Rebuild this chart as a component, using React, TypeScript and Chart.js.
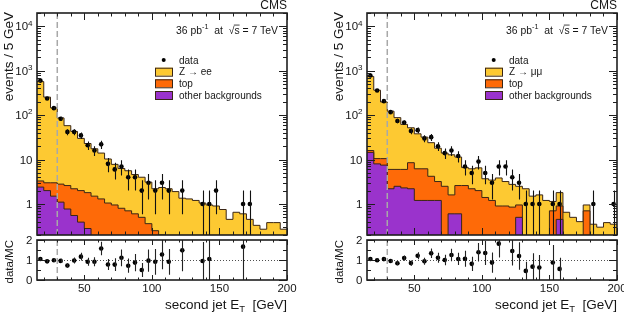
import React, { useEffect, useRef } from "react";
import { Chart, registerables } from "chart.js";

Chart.register(...registerables);

const FONT = '"Liberation Sans", Arial, Helvetica, sans-serif';

// Histogram binning in second-jet ET (GeV)
const BIN_EDGES = [
  15, 20, 25, 30, 35, 40, 45, 50, 55, 60, 65, 70, 75, 80, 85, 90, 95, 100, 105,
  110, 115, 120, 125, 130, 135, 140, 145, 150, 155, 160, 165, 170, 175, 180,
  185, 190, 195, 200,
];

// Z -> ee selection: observed events and expected contributions per bin
const EE_DATA = [
  600, 238, 144, 83, 42, 42, 35, 21, 16, 22, 8, 6, 7, 4, 4, 2, 3, 2, 3, 2, 0, 2,
  0, 0, 1, 1, 2, 0, 0, 0, 1, 1, 0, 0, 0, 0, 0,
];
const EE_Z = [
  567, 252, 143, 84, 55.4, 40.8, 28, 21.2, 16, 12.7, 9.25, 6.85, 5.5, 4.9, 4.0,
  3.5, 2.74, 1.95, 2.15, 2.1, 1.9, 1.35, 1.3, 1.2, 1.05, 0.95, 0.9, 0.75, 0.45,
  0.65, 0.6, 0.45, 0.33, 0.27, 0.38, 0.38, 0.27,
];
const EE_TOP = [
  0.9, 1.0, 1.5, 1.7, 1.83, 1.65, 1.61, 1.52, 1.5, 1.3, 1.05, 0.95, 0.8, 0.7,
  0.6, 0.5, 0.36, 0.25, 0.2, 0.1, 0, 0, 0, 0, 0, 0, 0, 0, 0, 0, 0, 0, 0, 0, 0,
  0, 0,
];
const EE_OTHER = [
  2.4, 2.0, 1.5, 1.1, 0.77, 0.55, 0.39, 0.28, 0, 0, 0, 0, 0, 0, 0, 0, 0, 0, 0,
  0, 0, 0, 0, 0, 0, 0, 0, 0, 0, 0, 0, 0, 0, 0, 0, 0, 0,
];

// Z -> mumu selection
const MM_DATA = [
  780, 360, 207, 117, 74, 68, 44, 46, 30, 32, 20, 14, 16, 12, 7, 5, 9, 5, 3, 7,
  7, 4, 3, 1, 1, 1, 0, 1, 1, 0, 0, 0, 0, 1, 0, 0, 1,
];
const MM_Z = [
  729, 354.5, 187.5, 117, 82, 56, 43.5, 31.8, 25.8, 19.8, 14.8, 11.5, 11.2, 8.8,
  4.0, 4.0, 4.5, 2.3, 2.25, 2.95, 2.3, 1.91, 1.55, 2.2, 1.5, 1.6, 1.2, 0.44,
  0.9, 0.65, 0.5, 0.4, 0.25, 0.35, 0.3, 0.38, 0.35,
];
const MM_TOP = [
  1.5, 2.5, 3.0, 3.8, 3.5, 3.7, 6.3, 5.0, 5.0, 3.0, 2.0, 2.5, 1.0, 2.0, 2.6,
  2.2, 2.0, 1.4, 1.2, 0.9, 0.9, 0.85, 0.45, 0, 0, 0, 0, 0.7, 0.45, 0, 0, 0, 0.7,
  0, 0, 0, 0,
];
const MM_OTHER = [
  14.5, 8, 7.5, 2.2, 2.5, 2.3, 2.2, 1.2, 1.2, 1.2, 1.2, 0, 0.6, 0.6, 0, 0, 0, 0,
  0, 0, 0, 0, 0.5, 0, 0, 0, 0, 0, 0.45, 0, 0, 0, 0, 0, 0, 0, 0,
];

const X_MIN = 15;
const X_MAX = 200;
const Y_MIN = 0.2;
const Y_MAX = 20000;
const R_MIN = 0;
const R_MAX = 2;
const ET_CUT = 30;

type Seg = { t: string; sup?: boolean; sub?: boolean; over?: boolean };

const X_TICKS = [50, 100, 150, 200];
const X_TICK_LABELS = ["50", "100", "150", "200"];
const Y_TICKS = [1, 10, 100, 1000, 10000];
const Y_TICK_LABELS: Seg[][] = [
  [{ t: "1" }],
  [{ t: "10" }],
  [{ t: "10" }, { t: "2", sup: true }],
  [{ t: "10" }, { t: "3", sup: true }],
  [{ t: "10" }, { t: "4", sup: true }],
];
const R_TICKS = [0, 1, 2];
const R_TICK_LABELS = ["0", "1", "2"];

const LUMI_TEXT: Seg[] = [
  { t: "36 pb" },
  { t: "-1", sup: true },
  { t: "  at  " },
  { t: "\u221A" },
  { t: "s", over: true },
  { t: " = 7 TeV" },
];
const X_TITLE: Seg[] = [{ t: "second jet E" }, { t: "T", sub: true }, { t: "  [GeV]" }];
const Y_TITLE = "events / 5 GeV";
const R_TITLE = "data/MC";
const EXPERIMENT = "CMS";

const COLORS = {
  z: "#fdc932",
  top: "#fe6a08",
  other: "#9a33cc",
  edge: "#3a2616",
  ink: "#151515",
  cut: "#a8a8a8",
};

const PANEL_W = 330;
const PANEL_H = 312;
const MAIN_PAD = { left: 37, top: 13, right: 43, bottom: 77 };
const RATIO_PAD = { left: 37, top: 240, right: 43, bottom: 32 };

function segFont(s: Seg, size: number) {
  const sz = s.sup || s.sub ? size * 0.7 : size;
  return `${sz}px ${FONT}`;
}

function richWidth(ctx: CanvasRenderingContext2D, segs: Seg[], size: number) {
  let w = 0;
  for (const s of segs) {
    ctx.font = segFont(s, size);
    w += ctx.measureText(s.t).width;
  }
  return w;
}

function drawRich(
  ctx: CanvasRenderingContext2D,
  segs: Seg[],
  x: number,
  baseline: number,
  size: number,
  align: "left" | "right" | "center" = "left"
) {
  const w = richWidth(ctx, segs, size);
  let cx = align === "right" ? x - w : align === "center" ? x - w / 2 : x;
  ctx.textAlign = "left";
  ctx.textBaseline = "alphabetic";
  for (const s of segs) {
    ctx.font = segFont(s, size);
    const sw = ctx.measureText(s.t).width;
    const dy = s.sup ? -size * 0.42 : s.sub ? size * 0.22 : 0;
    ctx.fillText(s.t, cx, baseline + dy);
    if (s.over) {
      ctx.save();
      ctx.lineWidth = 0.8;
      ctx.strokeStyle = COLORS.ink;
      ctx.beginPath();
      ctx.moveTo(cx - 0.5, baseline - size * 0.84);
      ctx.lineTo(cx + sw, baseline - size * 0.84);
      ctx.stroke();
      ctx.restore();
    }
    cx += sw;
  }
}

function drawFrame(ctx: CanvasRenderingContext2D, a: any) {
  ctx.save();
  ctx.strokeStyle = "#1e1e1e";
  ctx.lineWidth = 1.6;
  ctx.strokeRect(a.left, a.top, a.right - a.left, a.bottom - a.top);
  ctx.restore();
}

function drawXTicks(ctx: CanvasRenderingContext2D, a: any, xs: any, major: number, minor: number) {
  ctx.save();
  ctx.strokeStyle = "#1e1e1e";
  ctx.lineWidth = 1;
  ctx.beginPath();
  for (let v = Math.ceil(X_MIN / 10) * 10; v <= X_MAX; v += 10) {
    const px = Math.round(xs.getPixelForValue(v)) + 0.5;
    const len = v % 50 === 0 ? major : minor;
    ctx.moveTo(px, a.bottom);
    ctx.lineTo(px, a.bottom - len);
    ctx.moveTo(px, a.top);
    ctx.lineTo(px, a.top + len);
  }
  ctx.stroke();
  ctx.restore();
}

function drawYTicks(ctx: CanvasRenderingContext2D, a: any, values: { v: number; major: boolean }[], ys: any) {
  ctx.save();
  ctx.strokeStyle = "#1e1e1e";
  ctx.lineWidth = 1;
  ctx.beginPath();
  for (const { v, major } of values) {
    const py = Math.round(ys.getPixelForValue(v)) + 0.5;
    const len = major ? 8 : 4;
    ctx.moveTo(a.left, py);
    ctx.lineTo(a.left + len, py);
    ctx.moveTo(a.right, py);
    ctx.lineTo(a.right - len, py);
  }
  ctx.stroke();
  ctx.restore();
}

function drawCutLine(ctx: CanvasRenderingContext2D, a: any, xs: any) {
  const px = xs.getPixelForValue(ET_CUT);
  ctx.save();
  ctx.strokeStyle = COLORS.cut;
  ctx.lineWidth = 1.5;
  ctx.setLineDash([6, 3]);
  ctx.beginPath();
  ctx.moveTo(px, a.top);
  ctx.lineTo(px, a.bottom);
  ctx.stroke();
  ctx.restore();
}

function drawRotatedTitle(ctx: CanvasRenderingContext2D, text: string, x: number, endY: number, size: number) {
  ctx.save();
  ctx.translate(x, endY);
  ctx.rotate(-Math.PI / 2);
  ctx.fillStyle = COLORS.ink;
  ctx.font = `${size}px ${FONT}`;
  ctx.textAlign = "right";
  ctx.textBaseline = "alphabetic";
  ctx.fillText(text, 0, 0);
  ctx.restore();
}

const centers = BIN_EDGES.slice(0, -1).map((e, i) => (e + BIN_EDGES[i + 1]) / 2);

function toSteps(vals: number[]) {
  return BIN_EDGES.map((e, i) => ({
    x: e,
    y: Math.max(vals[Math.min(i, vals.length - 1)], 1e-3),
  }));
}

type PanelProps = {
  offset: number;
  data: number[];
  z: number[];
  top: number[];
  other: number[];
  zLabel: string;
};

function HistPanel({ offset, data, z, top, other, zLabel }: PanelProps) {
  const mainRef = useRef<HTMLCanvasElement>(null);
  const ratioRef = useRef<HTMLCanvasElement>(null);

  useEffect(() => {
    const cumOther = other.slice();
    const cumTop = other.map((v, i) => v + top[i]);
    const total = cumTop.map((v, i) => v + z[i]);
    const legend = [
      { label: "data", kind: "marker", color: "#000" },
      { label: zLabel, kind: "box", color: COLORS.z },
      { label: "top", kind: "box", color: COLORS.top },
      { label: "other backgrounds", kind: "box", color: COLORS.other },
    ];

    const dataPoints = centers
      .map((c, i) => (data[i] > 0 ? { x: c, y: data[i] } : null))
      .filter(Boolean) as { x: number; y: number }[];

    const ratioPoints = centers
      .map((c, i) => {
        if (data[i] <= 0) return null;
        const r = data[i] / total[i];
        return r <= R_MAX ? { x: c, y: r, e: Math.sqrt(data[i]) / total[i] } : null;
      })
      .filter(Boolean) as { x: number; y: number; e: number }[];

    const logTicks: { v: number; major: boolean }[] = [];
    for (let e = -1; e <= 4; e++) {
      for (let m = 1; m <= 9; m++) {
        const v = m * Math.pow(10, e);
        if (v < Y_MIN - 1e-9 || v > Y_MAX + 1e-9) continue;
        logTicks.push({ v, major: m === 1 });
      }
    }

    const mainDecor = {
      id: "mainDecor",
      afterDatasetsDraw(chart: any) {
        const { ctx, chartArea: a } = chart;
        const xs = chart.scales.x;
        const ys = chart.scales.y;

        // statistical error bars on data
        ctx.save();
        ctx.beginPath();
        ctx.rect(a.left, a.top, a.right - a.left, a.bottom - a.top);
        ctx.clip();
        ctx.strokeStyle = "#111";
        ctx.lineWidth = 1.1;
        ctx.beginPath();
        centers.forEach((c, i) => {
          const n = data[i];
          if (n <= 0) return;
          const err = Math.sqrt(n);
          const px = Math.round(xs.getPixelForValue(c)) + 0.5;
          const lo = n - err;
          const y1 = lo > 0 ? ys.getPixelForValue(lo) : a.bottom + 2;
          const y2 = ys.getPixelForValue(n + err);
          ctx.moveTo(px, y1);
          ctx.lineTo(px, y2);
        });
        ctx.stroke();
        ctx.restore();

        drawCutLine(ctx, a, xs);
        drawFrame(ctx, a);
        drawXTicks(ctx, a, xs, 7, 3.5);
        drawYTicks(ctx, a, logTicks, ys);

        // y tick labels
        ctx.fillStyle = COLORS.ink;
        Y_TICKS.forEach((v, i) => {
          const py = ys.getPixelForValue(v);
          drawRich(ctx, Y_TICK_LABELS[i], a.left - 4.5, py + 4.1, 11.5, "right");
        });

        drawRotatedTitle(ctx, Y_TITLE, 13.3, a.top - 1, 13.5);

        // experiment tag and luminosity
        ctx.fillStyle = COLORS.ink;
        drawRich(ctx, [{ t: EXPERIMENT }], a.right, 8.5, 12, "right");
        drawRich(ctx, LUMI_TEXT, a.left + 241, a.top + 20.8, 10.4, "right");

        // legend
        const lx = a.left + 118;
        const tx = a.left + 142;
        const rows = [47, 58.7, 70.3, 82];
        legend.forEach((item, i) => {
          const cy = a.top + rows[i];
          if (item.kind === "marker") {
            ctx.fillStyle = item.color;
            ctx.beginPath();
            ctx.arc(lx + 8.7, cy, 2, 0, Math.PI * 2);
            ctx.fill();
          } else {
            ctx.fillStyle = item.color;
            ctx.fillRect(lx, cy - 4, 17.5, 8);
            ctx.strokeStyle = COLORS.edge;
            ctx.lineWidth = 1;
            ctx.strokeRect(lx + 0.5, cy - 3.5, 17, 8);
          }
          ctx.fillStyle = COLORS.ink;
          drawRich(ctx, [{ t: item.label }], tx, cy + 3.6, 10, "left");
        });
      },
    };

    const ratioDecor = {
      id: "ratioDecor",
      beforeDatasetsDraw(chart: any) {
        const { ctx, chartArea: a } = chart;
        const ys = chart.scales.y;
        const py = Math.round(ys.getPixelForValue(1)) + 0.5;
        ctx.save();
        ctx.strokeStyle = "#222";
        ctx.lineWidth = 0.8;
        ctx.setLineDash([1, 2]);
        ctx.beginPath();
        ctx.moveTo(a.left, py);
        ctx.lineTo(a.right, py);
        ctx.stroke();
        ctx.restore();
      },
      afterDatasetsDraw(chart: any) {
        const { ctx, chartArea: a } = chart;
        const xs = chart.scales.x;
        const ys = chart.scales.y;

        ctx.save();
        ctx.beginPath();
        ctx.rect(a.left, a.top, a.right - a.left, a.bottom - a.top);
        ctx.clip();
        ctx.strokeStyle = "#222";
        ctx.lineWidth = 1.1;
        ctx.beginPath();
        ratioPoints.forEach((p) => {
          const px = Math.round(xs.getPixelForValue(p.x)) + 0.5;
          ctx.moveTo(px, ys.getPixelForValue(p.y - p.e));
          ctx.lineTo(px, ys.getPixelForValue(p.y + p.e));
        });
        ctx.stroke();
        ctx.restore();

        drawCutLine(ctx, a, xs);
        drawFrame(ctx, a);
        drawXTicks(ctx, a, xs, 5, 2.5);
        const rTicks: { v: number; major: boolean }[] = [];
        for (let v = R_MIN; v <= R_MAX + 1e-9; v += 0.5) {
          rTicks.push({ v, major: Math.abs(v - Math.round(v)) < 1e-9 });
        }
        drawYTicks(ctx, a, rTicks, ys);

        ctx.fillStyle = COLORS.ink;
        R_TICKS.forEach((v, i) => {
          drawRich(ctx, [{ t: R_TICK_LABELS[i] }], a.left - 4.5, ys.getPixelForValue(v) + 4.1, 11.5, "right");
        });
        X_TICKS.forEach((v, i) => {
          drawRich(ctx, [{ t: X_TICK_LABELS[i] }], xs.getPixelForValue(v), a.bottom + 12.3, 11.5, "center");
        });
        drawRich(ctx, X_TITLE, a.right, 309, 13.5, "right");
        drawRotatedTitle(ctx, R_TITLE, 13.3, a.top, 11.5);
      },
    };

    const stackSet = (vals: number[], color: string) => ({
      data: toSteps(vals),
      stepped: "before",
      fill: "start",
      backgroundColor: color,
      borderColor: COLORS.edge,
      borderWidth: 1,
      pointRadius: 0,
    });

    const mainChart = new Chart(mainRef.current as HTMLCanvasElement, {
      type: "line",
      data: {
        datasets: [
          {
            data: dataPoints,
            showLine: false,
            pointRadius: 2.3,
            pointBackgroundColor: "#000",
            pointBorderWidth: 0,
            borderColor: "#000",
          },
          stackSet(cumOther, COLORS.other),
          stackSet(cumTop, COLORS.top),
          stackSet(total, COLORS.z),
        ] as any,
      },
      options: {
        responsive: false,
        animation: false,
        devicePixelRatio: 1,
        events: [],
        layout: { padding: MAIN_PAD },
        scales: {
          x: { type: "linear", min: X_MIN, max: X_MAX, display: false },
          y: { type: "logarithmic", min: Y_MIN, max: Y_MAX, display: false },
        },
        plugins: { legend: { display: false }, tooltip: { enabled: false } },
      },
      plugins: [mainDecor],
    });

    const ratioChart = new Chart(ratioRef.current as HTMLCanvasElement, {
      type: "line",
      data: {
        datasets: [
          {
            data: ratioPoints.map((p) => ({ x: p.x, y: p.y })),
            showLine: false,
            pointRadius: 2.3,
            pointBackgroundColor: "#000",
            pointBorderWidth: 0,
            borderColor: "#000",
          },
        ],
      },
      options: {
        responsive: false,
        animation: false,
        devicePixelRatio: 1,
        events: [],
        layout: { padding: RATIO_PAD },
        scales: {
          x: { type: "linear", min: X_MIN, max: X_MAX, display: false },
          y: { type: "linear", min: R_MIN, max: R_MAX, display: false },
        },
        plugins: { legend: { display: false }, tooltip: { enabled: false } },
      },
      plugins: [ratioDecor],
    });

    return () => {
      mainChart.destroy();
      ratioChart.destroy();
    };
  }, []);

  return (
    <div style={{ position: "absolute", left: offset, top: 0, width: PANEL_W, height: PANEL_H }}>
      <canvas ref={mainRef} width={PANEL_W} height={PANEL_H} style={{ position: "absolute", left: 0, top: 0 }} />
      <canvas ref={ratioRef} width={PANEL_W} height={PANEL_H} style={{ position: "absolute", left: 0, top: 0 }} />
    </div>
  );
}

export default function App() {
  return (
    <div
      style={{
        position: "fixed",
        left: 0,
        top: 0,
        width: 624,
        height: 312,
        overflow: "hidden",
        background: "#fff",
      }}
    >
      <HistPanel offset={0} data={EE_DATA} z={EE_Z} top={EE_TOP} other={EE_OTHER} zLabel={"Z \u2192 ee"} />
      <HistPanel offset={330} data={MM_DATA} z={MM_Z} top={MM_TOP} other={MM_OTHER} zLabel={"Z \u2192 \u03BC\u03BC"} />
    </div>
  );
}
